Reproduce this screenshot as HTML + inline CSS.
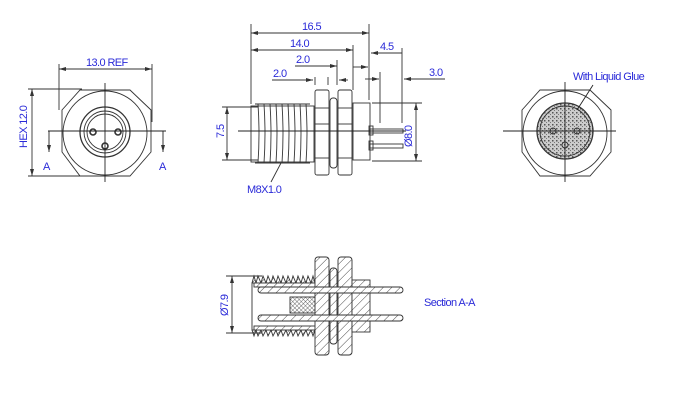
<!DOCTYPE html>
<html><head><style>
html,body{margin:0;padding:0;background:#fff;}
svg{display:block;}
text{font-family:"Liberation Sans Narrow","Liberation Sans",sans-serif;font-size:11px;fill:#2a2ad8;letter-spacing:-0.6px;}
</style></head><body>
<svg width="689" height="414" viewBox="0 0 689 414" xmlns="http://www.w3.org/2000/svg">
<defs>
<marker id="ar" markerWidth="7" markerHeight="5" refX="7" refY="2.5" orient="auto-start-reverse" markerUnits="userSpaceOnUse"><path d="M0,0.5 L7,2.5 L0,4.5z" fill="#333"/></marker>
<pattern id="h" width="6" height="6" patternUnits="userSpaceOnUse" patternTransform="rotate(45)"><rect width="6" height="6" fill="#fff"/><line x1="0" y1="0" x2="0" y2="6" stroke="#333" stroke-width="0.9"/></pattern>
<pattern id="x" width="3" height="3" patternUnits="userSpaceOnUse" patternTransform="rotate(45)"><rect width="3" height="3" fill="#fff"/><line x1="0" y1="0" x2="0" y2="3" stroke="#333" stroke-width="0.7"/><line x1="0" y1="0" x2="3" y2="0" stroke="#333" stroke-width="0.7"/></pattern>
<pattern id="g" width="4" height="4" patternUnits="userSpaceOnUse"><rect width="4" height="4" fill="#ccc"/><rect x="0" y="0" width="1.5" height="1.5" fill="#555"/><rect x="2" y="2" width="1" height="1" fill="#777"/></pattern>
</defs>
<g fill="none" stroke="#333" stroke-width="0.9">
<polygon points="80,90 130,90 151,110 151,152 130,176 80,176 62,152 62,110"/>
<circle cx="105" cy="133" r="42"/>
<circle cx="105" cy="132" r="25" stroke-width="1.3"/>
<circle cx="105" cy="132" r="21"/>
<circle cx="105" cy="132" r="18"/>
<circle cx="93" cy="132" r="3" stroke-width="1.6"/>
<circle cx="118" cy="132" r="3" stroke-width="1.6"/>
<circle cx="105" cy="146" r="3" stroke-width="1.6"/>
<line x1="48" y1="131" x2="166" y2="131" stroke="#222"/>
<line x1="105" y1="83" x2="105" y2="182" stroke="#222"/>
<line x1="49" y1="131" x2="49" y2="152" marker-end="url(#ar)" stroke="#222"/>
<line x1="163" y1="131" x2="163" y2="152" marker-end="url(#ar)" stroke="#222"/>
<line x1="59" y1="64" x2="59" y2="110"/>
<line x1="152" y1="64" x2="152" y2="122"/>
<line x1="59" y1="69" x2="152" y2="69" marker-end="url(#ar)" marker-start="url(#ar)"/>
<line x1="28" y1="89" x2="82" y2="89"/>
<line x1="28" y1="176" x2="82" y2="176"/>
<line x1="32" y1="89" x2="32" y2="176" marker-end="url(#ar)" marker-start="url(#ar)"/>
<rect x="251" y="106" width="63" height="56"/>
<path d="M258,104 q2,30 0,59 M264,104 q2,30 0,59 M270,104 q2,30 0,59 M276,104 q2,30 0,59 M282,104 q2,30 0,59 M288,104 q2,30 0,59 M294,104 q2,30 0,59 M300,104 q2,30 0,59 M306,104 q2,30 0,59"/>
<path d="M255,104 h55 M255,163 h55"/>
<rect x="315" y="90" width="14" height="85" rx="2"/>
<line x1="315" y1="108" x2="329" y2="108"/><line x1="315" y1="124" x2="329" y2="124"/><line x1="315" y1="158" x2="329" y2="158"/>
<rect x="330" y="98" width="7" height="70" rx="3"/>
<rect x="338" y="90" width="14" height="85" rx="2"/>
<line x1="338" y1="108" x2="352" y2="108"/><line x1="338" y1="124" x2="352" y2="124"/><line x1="338" y1="158" x2="352" y2="158"/>
<rect x="353" y="103" width="17" height="57"/>
<rect x="370" y="129" width="33" height="4"/>
<rect x="370" y="144" width="33" height="4"/>
<rect x="369" y="126" width="4" height="9"/><rect x="369" y="141" width="4" height="9"/>
<line x1="238" y1="131" x2="406" y2="131" stroke="#222"/>
<line x1="251" y1="24" x2="251" y2="104"/>
<line x1="369" y1="24" x2="369" y2="100"/>
<line x1="353" y1="45" x2="353" y2="90"/>
<line x1="315" y1="77" x2="315" y2="85"/><line x1="328" y1="77" x2="328" y2="85"/>
<line x1="337" y1="60" x2="337" y2="85"/>
<line x1="380" y1="72" x2="380" y2="123"/>
<line x1="402" y1="48" x2="402" y2="123"/>
<line x1="251" y1="33" x2="369" y2="33" marker-end="url(#ar)" marker-start="url(#ar)"/>
<line x1="251" y1="50" x2="353" y2="50" marker-end="url(#ar)" marker-start="url(#ar)"/>
<line x1="295" y1="66" x2="337" y2="66" marker-end="url(#ar)"/>
<line x1="272" y1="80" x2="313" y2="80" marker-end="url(#ar)"/>
<line x1="348" y1="80" x2="339" y2="80" marker-end="url(#ar)"/>
<line x1="402" y1="53" x2="371" y2="53" marker-end="url(#ar)"/>
<line x1="353" y1="67" x2="368" y2="67" marker-end="url(#ar)"/>
<line x1="365" y1="79" x2="379" y2="79" marker-end="url(#ar)"/>
<line x1="445" y1="79" x2="404" y2="79" marker-end="url(#ar)"/>
<line x1="372" y1="103" x2="422" y2="103"/>
<line x1="372" y1="161" x2="422" y2="161"/>
<line x1="416" y1="103" x2="416" y2="161" marker-end="url(#ar)" marker-start="url(#ar)"/>
<line x1="222" y1="107" x2="258" y2="107"/>
<line x1="222" y1="160" x2="258" y2="160"/>
<line x1="227" y1="107" x2="227" y2="160" marker-end="url(#ar)" marker-start="url(#ar)"/>
<line x1="271" y1="182" x2="281" y2="163"/>
<polygon points="540,90 590,90 611,110 611,152 590,176 540,176 522,152 522,110"/>
<circle cx="565" cy="133" r="42"/>
<circle cx="565" cy="131" r="28" fill="url(#g)" stroke-width="1.3"/>
<circle cx="565" cy="131" r="25"/>
<circle cx="553" cy="131" r="3"/><circle cx="577" cy="131" r="3"/><circle cx="565" cy="145" r="3"/>
<line x1="503" y1="131" x2="616" y2="131" stroke="#222"/>
<line x1="565" y1="82" x2="565" y2="182" stroke="#222"/>
<line x1="593" y1="85" x2="577" y2="110" stroke="#222"/>
<path d="M252,283 L254,276 256,283 258,276 261,283 263,276 266,283 268,276 271,283 273,276 276,283 278,276 281,283 283,276 286,283 288,276 291,283 293,276 296,283 298,276 301,283 303,276 306,283 308,276 311,283 313,276 315,283" fill="url(#h)"/>
<path d="M252,330 L254,336 256,330 258,336 261,330 263,336 266,330 268,336 271,330 273,336 276,330 278,336 281,330 283,336 286,330 288,336 291,330 293,336 296,330 298,336 301,330 303,336 306,330 308,336 311,330 313,336 315,330" fill="url(#h)"/>
<rect x="252" y="283" width="100" height="47"/>
<rect x="254" y="283" width="98" height="4" fill="url(#h)"/>
<rect x="254" y="326" width="98" height="4" fill="url(#h)"/>
<rect x="290" y="297" width="56" height="16" fill="url(#x)"/>
<rect x="346" y="297" width="10" height="16" fill="url(#g)"/>
<rect x="315" y="257" width="14" height="98" rx="3" fill="url(#h)"/>
<rect x="338" y="257" width="14" height="98" rx="3" fill="url(#h)"/>
<rect x="330" y="268" width="7" height="76" rx="3" fill="url(#h)"/>
<rect x="352" y="280" width="18" height="52" fill="url(#h)"/>
<rect x="258" y="287" width="145" height="6" rx="3" fill="url(#h)"/>
<rect x="258" y="315" width="145" height="6" rx="3" fill="url(#h)"/>
<line x1="226" y1="276" x2="262" y2="276"/>
<line x1="226" y1="333" x2="262" y2="333"/>
<line x1="232" y1="276" x2="232" y2="333" marker-end="url(#ar)" marker-start="url(#ar)"/>
</g>
<text x="86" y="66">13.0 REF</text>
<text x="43" y="170">A</text>
<text x="159" y="170">A</text>
<text transform="translate(27,148) rotate(-90)">HEX 12.0</text>
<text x="302" y="30">16.5</text>
<text x="290" y="47">14.0</text>
<text x="296" y="63">2.0</text>
<text x="273" y="77">2.0</text>
<text x="380" y="50">4.5</text>
<text x="429" y="76">3.0</text>
<text transform="translate(412,147) rotate(-90)">Ø8.0</text>
<text transform="translate(224,138) rotate(-90)">7.5</text>
<text x="247" y="193">M8X1.0</text>
<text x="573" y="80">With Liquid Glue</text>
<text transform="translate(228,316) rotate(-90)">Ø7.9</text>
<text x="424" y="306">Section A-A</text>
</svg>
</body></html>
